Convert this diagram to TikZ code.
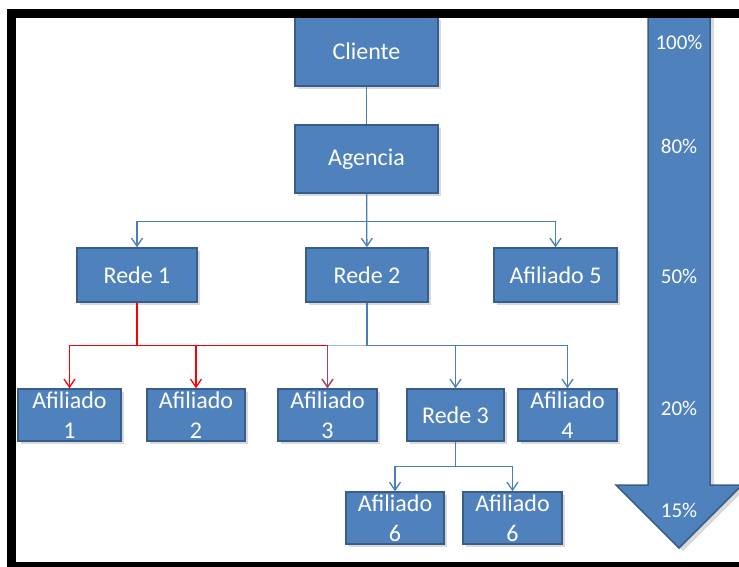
\documentclass[tikz,border=0pt]{standalone}
\usepackage{fontspec}
\setmainfont{Carlito}
\usetikzlibrary{arrows.meta,shadows}
\definecolor{boxblue}{HTML}{4F81BD}
\definecolor{boxedge}{HTML}{385D8A}
\definecolor{linkblue}{HTML}{4A7EBB}

\begin{document}
\begin{tikzpicture}[x=1pt, y=-1pt,
  box/.style={draw=boxedge, fill=boxblue, line width=1.5pt, text=white, inner sep=0pt, align=center,
    font=\fontsize{24}{30}\selectfont,
    drop shadow={shadow xshift=3pt, shadow yshift=-3pt, opacity=0.3}},
  link/.style={draw=linkblue, line width=1.3pt},
  redlink/.style={draw=red, line width=1.3pt},
  tip/.style={-{Straight Barb[length=8pt,width=11pt]}},
  pct/.style={text=white, font=\fontsize{21}{25}\selectfont}]

  \useasboundingbox (0,0) rectangle (739,566);
  \clip (0,0) rectangle (739,566);

  % big share arrow
  \filldraw[draw=boxedge, fill=boxblue, line width=1.5pt,
    drop shadow={shadow xshift=4pt, shadow yshift=-3pt, opacity=0.3}]
    (648,14) -- (710,14) -- (710,485) -- (742,485) -- (679,548) -- (616,485) -- (648,485) -- cycle;
  \node[pct] (p100) at (679,42) {100\%};
  \node[pct] (p80) at (679,146) {80\%};
  \node[pct] (p50) at (679,276) {50\%};
  \node[pct] (p20) at (679,408) {20\%};
  \node[pct] (p15) at (679,510) {15\%};

  % top levels
  \node[box, minimum width=143pt, minimum height=69pt] (cliente) at (366.5,51.5) {Cliente};
  \node[box, minimum width=143pt, minimum height=68pt] (agencia) at (366.5,159) {Agencia};

  % second level
  \node[box, minimum width=120pt, minimum height=54pt] (rede1) at (137,275) {Rede 1};
  \node[box, minimum width=122pt, minimum height=54pt] (rede2) at (367,275) {Rede 2};
  \node[box, minimum width=123pt, minimum height=54pt] (afil5) at (555.5,275) {Afiliado 5};

  % third level
  \node[box, minimum width=103pt, minimum height=52pt] (afil1) at (69.5,415) {Afiliado\\1};
  \node[box, minimum width=98pt, minimum height=52pt] (afil2) at (196,415) {Afiliado\\2};
  \node[box, minimum width=99pt, minimum height=52pt] (afil3) at (327.5,415) {Afiliado\\3};
  \node[box, minimum width=97pt, minimum height=52pt] (rede3) at (455.5,415) {Rede 3};
  \node[box, minimum width=99pt, minimum height=52pt] (afil4) at (567.5,415) {Afiliado\\4};

  % fourth level
  \node[box, minimum width=98pt, minimum height=52pt] (afil6a) at (395,518) {Afiliado\\6};
  \node[box, minimum width=99pt, minimum height=52pt] (afil6b) at (512.5,518) {Afiliado\\6};

  % connectors
  \draw[link] (cliente) -- (agencia);
  \draw[link, tip] (agencia.south) -- ++(0,28) -| (rede1.north);
  \draw[link, tip] (agencia) -- (rede2);
  \draw[link, tip] (agencia.south) -- ++(0,28) -| (afil5.north);

  \draw[redlink, tip] (rede1.south) -- ++(0,43) -| (afil1.north);
  \draw[redlink, tip] (rede1.south) -- ++(0,43) -| (afil2.north);
  \draw[redlink, tip] (rede1.south) -- ++(0,43) -| (afil3.north);

  \draw[link, tip, draw opacity=0.55] (rede2.south) -- ++(0,43) -| (afil3.north);
  \draw[link, tip] (rede2.south) -- ++(0,43) -| (rede3.north);
  \draw[link, tip] (rede2.south) -- ++(0,43) -| (afil4.north);

  \draw[link, tip] (rede3.south) -- ++(0,25) -| (afil6a.north);
  \draw[link, tip] (rede3.south) -- ++(0,25) -| (afil6b.north);

  % frame
  \draw[line width=9pt] (11.5,13) rectangle (760,566.5);
\end{tikzpicture}
\end{document}
